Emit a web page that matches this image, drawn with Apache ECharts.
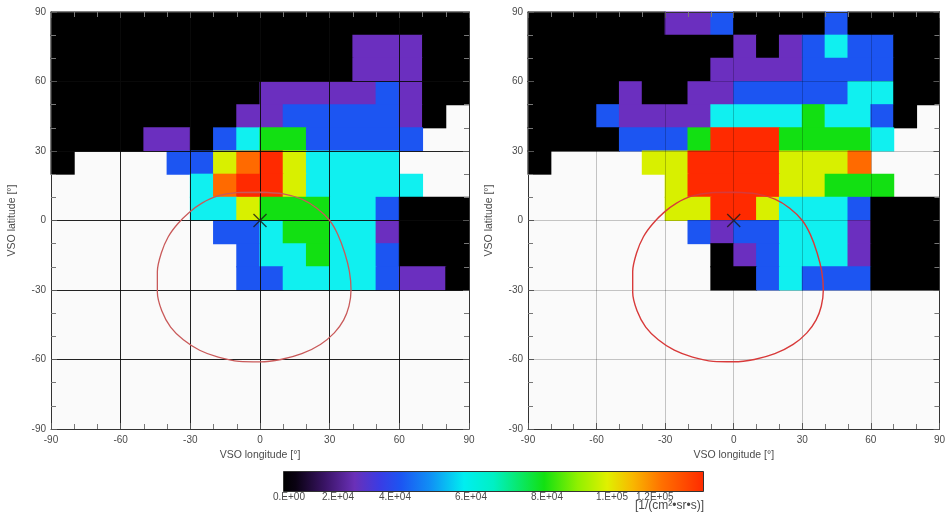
<!DOCTYPE html>
<html>
<head>
<meta charset="utf-8">
<script src="https://cdn.jsdelivr.net/npm/echarts/dist/echarts.min.js"></script>
<style>
html,body{margin:0;padding:0;background:#ffffff;}
#chart{width:948px;height:512px;}
</style>
</head>
<body>
<div id="chart"></div>
<script>
// ---------- DATA ----------
// Cell flux in units of 1E+04 [1/(cm2 sr s)], rows from lat 80..90 (top) down to -90..-80,
// columns from lon -90..-80 to 80..90. null = no data (white).
const n = null;
const fluxUnit = 1e4;
const lonEdges = [-90,-80,-70,-60,-50,-40,-30,-20,-10,0,10,20,30,40,50,60,70,80,90];
const latEdges = [90,80,70,60,50,40,30,20,10,0,-10,-20,-30,-40,-50,-60,-70,-80,-90];

const leftFlux = [
  [0,0,0,0,0,0,0,0,0,0,0,0,0,0,0,0,0,0],
  [0,0,0,0,0,0,0,0,0,0,0,0,0,2,2,2,0,0],
  [0,0,0,0,0,0,0,0,0,0,0,0,0,2,2,2,0,0],
  [0,0,0,0,0,0,0,0,0,2,2,2,2,2,4,2,0,0],
  [0,0,0,0,0,0,0,0,2,2,4,4,4,4,4,2,0,n],
  [0,0,0,0,2,2,0,4,6,8,8,4,4,4,4,4,n,n],
  [0,n,n,n,n,4,4,10,12,13,10,6,6,6,6,n,n,n],
  [n,n,n,n,n,n,6,12,13,13,10,6,6,6,6,6,n,n],
  [n,n,n,n,n,n,6,6,10,8,8,8,6,6,4,0,0,0],
  [n,n,n,n,n,n,n,4,4,6,8,8,6,6,2,0,0,0],
  [n,n,n,n,n,n,n,n,4,6,6,8,6,6,4,0,0,0],
  [n,n,n,n,n,n,n,n,4,4,6,6,6,6,4,2,2,0],
  [n,n,n,n,n,n,n,n,n,n,n,n,n,n,n,n,n,n],
  [n,n,n,n,n,n,n,n,n,n,n,n,n,n,n,n,n,n],
  [n,n,n,n,n,n,n,n,n,n,n,n,n,n,n,n,n,n],
  [n,n,n,n,n,n,n,n,n,n,n,n,n,n,n,n,n,n],
  [n,n,n,n,n,n,n,n,n,n,n,n,n,n,n,n,n,n],
  [n,n,n,n,n,n,n,n,n,n,n,n,n,n,n,n,n,n]
];

const rightFlux = [
  [0,0,0,0,0,0,2,2,4,0,0,0,0,4,0,0,0,0],
  [0,0,0,0,0,0,0,0,0,2,0,2,4,6,4,4,0,0],
  [0,0,0,0,0,0,0,0,2,2,2,2,4,4,4,4,0,0],
  [0,0,0,0,2,0,0,2,2,4,4,4,4,4,6,6,0,0],
  [0,0,0,4,2,2,2,2,6,6,6,6,8,6,6,4,0,n],
  [0,0,0,0,4,4,4,8,13,13,13,8,8,8,8,6,n,n],
  [0,n,n,n,n,10,10,13,13,13,13,10,10,10,12,n,n,n],
  [n,n,n,n,n,n,10,13,13,13,13,10,10,8,8,8,n,n],
  [n,n,n,n,n,n,10,10,13,13,10,6,6,6,4,0,0,0],
  [n,n,n,n,n,n,n,4,2,4,4,6,6,6,2,0,0,0],
  [n,n,n,n,n,n,n,n,0,2,4,6,6,6,2,0,0,0],
  [n,n,n,n,n,n,n,n,0,0,4,6,4,4,4,0,0,0],
  [n,n,n,n,n,n,n,n,n,n,n,n,n,n,n,n,n,n],
  [n,n,n,n,n,n,n,n,n,n,n,n,n,n,n,n,n,n],
  [n,n,n,n,n,n,n,n,n,n,n,n,n,n,n,n,n,n],
  [n,n,n,n,n,n,n,n,n,n,n,n,n,n,n,n,n,n],
  [n,n,n,n,n,n,n,n,n,n,n,n,n,n,n,n,n,n],
  [n,n,n,n,n,n,n,n,n,n,n,n,n,n,n,n,n,n]
];

// Outline (lon, lat) of the red contour
const contourLon = [0, 10, 18, 24.5, 30, 33.5, 36.5, 38.5, 39.2, 38.3, 36, 32, 26, 18, 9, 0, -9, -18, -26, -33, -38.5, -42.3, -44.2, -44.2, -42.5, -39.5, -35.5, -30.5, -25, -18.5, -10, 0];
const contourLat = [12.2, 11.5, 9.2, 5.3, 0, -6, -14, -22, -30, -37, -43, -48.5, -53.5, -57.5, -60, -61, -60.8, -59, -56, -51.5, -46, -39, -31, -22, -14, -7, -1.5, 3.5, 7.5, 10.5, 12, 12.2];

const centerPoint = [[0, 0]];

const cbarLabels = ['0.E+00', '2.E+04', '4.E+04', '6.E+04', '8.E+04', '1.E+05', '1.2E+05'];
const cbarUnit = '[1/(cm\u00B2\u2022sr\u2022s)]';

// ---------- BUILD ----------
// merge horizontally adjacent equal cells into runs: [lonFrom, lonTo, latTop, latBottom, flux]
function cells(grid) {
  const out = [];
  grid.forEach((row, i) => {
    let j = 0;
    while (j < row.length) {
      const v = row[j];
      let k = j + 1;
      while (k < row.length && row[k] === v) k++;
      if (v !== null) out.push([lonEdges[j], lonEdges[k], latEdges[i], latEdges[i + 1], v * fluxUnit]);
      j = k;
    }
  });
  return out;
}
const contour = contourLon.map((x, i) => [x, contourLat[i]]);

const levelColors = {
  black: '#000000', purple: '#6b2fbf', blue: '#1c55f2', cyan: '#10f0f0',
  green: '#12e012', yellow: '#d8f000', orange: '#ff6a00', red: '#ff2a00'
};

function renderCell(params, api) {
  const p0 = api.coord([api.value(0), api.value(2)]);
  const p1 = api.coord([api.value(1), api.value(3)]);
  const c = api.visual('color');
  const pad = 0.5;
  return {
    type: 'rect',
    shape: { x: p0[0] - pad, y: p0[1] - pad, width: p1[0] - p0[0] + 2 * pad, height: p1[1] - p0[1] + 2 * pad },
    style: { fill: c, stroke: null }
  };
}

const font = 'Liberation Sans';
const labelColor = '#4a4a4a';

function makeAxes(gi, gridColor, isX) {
  const main = {
    type: 'value', gridIndex: gi, min: -90, max: 90, interval: 30,
    position: isX ? 'bottom' : 'left',
    z: 5,
    axisLine: { show: true, onZero: false, lineStyle: { color: '#333', width: 1 } },
    axisTick: { show: true, inside: true, length: 6, lineStyle: { color: '#555' } },
    minorTick: { show: true, splitNumber: 3, length: 5, lineStyle: { color: '#777' } },
    minorSplitLine: { show: false },
    axisLabel: { fontSize: 10, color: labelColor, fontFamily: font, margin: isX ? 6 : 5 },
    splitLine: { show: true, lineStyle: { color: gridColor, width: 1 } },
    name: isX ? 'VSO longitude [\u00B0]' : 'VSO latitude [\u00B0]',
    nameLocation: 'middle',
    nameGap: isX ? 20 : 33,
    nameTextStyle: { fontSize: 10.5, color: labelColor, fontFamily: font }
  };
  const opp = {
    type: 'value', gridIndex: gi, min: -90, max: 90, interval: 30,
    position: isX ? 'top' : 'right',
    z: 5,
    axisLine: { show: true, onZero: false, lineStyle: { color: '#333', width: 1 } },
    axisTick: { show: true, inside: true, length: 6, lineStyle: { color: '#555' } },
    minorTick: { show: true, splitNumber: 3, length: 5, lineStyle: { color: '#777' } },
    minorSplitLine: { show: false },
    axisLabel: { show: false },
    splitLine: { show: false }
  };
  return [main, opp];
}

const leftGrid = 'rgba(10,10,10,0.9)';
const rightGrid = 'rgba(0,0,0,0.22)';

const xAxes = [...makeAxes(0, leftGrid, true), ...makeAxes(1, rightGrid, true)];
const yAxes = [...makeAxes(0, leftGrid, false), ...makeAxes(1, rightGrid, false)];

const cbarX = 283, cbarY = 471, cbarW = 420, cbarH = 20;
const cbarLabelLeft = [273, 322, 379, 455, 531, 596, 636];

const graphics = [
  {
    type: 'rect', left: cbarX, top: cbarY, z: 10,
    shape: { width: cbarW, height: cbarH },
    style: {
      fill: {
        type: 'linear', x: 0, y: 0, x2: 1, y2: 0,
        colorStops: [
          { offset: 0, color: '#000000' },
          { offset: 0.03, color: '#0a0212' },
          { offset: 0.1, color: '#3a1466' },
          { offset: 0.17, color: '#6a30b8' },
          { offset: 0.23, color: '#3a3ce4' },
          { offset: 0.28, color: '#1c55f2' },
          { offset: 0.35, color: '#1090f5' },
          { offset: 0.43, color: '#00eef0' },
          { offset: 0.5, color: '#00f0c4' },
          { offset: 0.62, color: '#12e012' },
          { offset: 0.7, color: '#90f000' },
          { offset: 0.77, color: '#e0f000' },
          { offset: 0.83, color: '#f8b800' },
          { offset: 0.9, color: '#ff7000' },
          { offset: 1, color: '#ff2a00' }
        ]
      },
      stroke: '#333', lineWidth: 1
    }
  }
];
cbarLabels.forEach((t, i) => {
  graphics.push({
    type: 'text', left: cbarLabelLeft[i], top: 492, z: 10,
    style: { text: t, fontSize: 10, fontFamily: font, fill: labelColor }
  });
});
graphics.push({
  type: 'text', right: 948 - 704, top: 500, z: 10,
  style: { text: cbarUnit, fontSize: 12, fontFamily: font, fill: labelColor }
});

const xSymbol = 'path://M0 0L10 10M10 0L0 10';

const option = {
  backgroundColor: '#ffffff',
  animation: false,
  grid: [
    { left: 51, top: 12, width: 418, height: 417, show: true, backgroundColor: '#fafafa', borderWidth: 0 },
    { left: 528, top: 12, width: 419, height: 417, show: true, backgroundColor: '#fafafa', borderWidth: 0 }
  ],
  xAxis: xAxes,
  yAxis: yAxes,
  visualMap: {
    type: 'piecewise', show: false, dimension: 4, seriesIndex: [0, 3],
    pieces: [
      { lt: 1e4, color: levelColors.black },
      { gte: 1e4, lt: 3e4, color: levelColors.purple },
      { gte: 3e4, lt: 5e4, color: levelColors.blue },
      { gte: 5e4, lt: 7e4, color: levelColors.cyan },
      { gte: 7e4, lt: 9e4, color: levelColors.green },
      { gte: 9e4, lt: 1.1e5, color: levelColors.yellow },
      { gte: 1.1e5, lt: 1.25e5, color: levelColors.orange },
      { gte: 1.25e5, color: levelColors.red }
    ]
  },
  graphic: graphics,
  series: [
    { type: 'custom', xAxisIndex: 0, yAxisIndex: 0, renderItem: renderCell, data: cells(leftFlux), z: 2, silent: true,
      encode: { x: [0, 1], y: [2, 3] } },
    { type: 'line', xAxisIndex: 0, yAxisIndex: 0, data: contour, smooth: 0.3, showSymbol: false, z: 8,
      lineStyle: { color: '#c95a5a', width: 1.3 } },
    { type: 'scatter', xAxisIndex: 0, yAxisIndex: 0, data: centerPoint, symbol: xSymbol, symbolSize: 13, z: 9,
      itemStyle: { color: 'none', borderColor: '#1a1a1a', borderWidth: 1.4 } },
    { type: 'custom', xAxisIndex: 2, yAxisIndex: 2, renderItem: renderCell, data: cells(rightFlux), z: 2, silent: true,
      encode: { x: [0, 1], y: [2, 3] } },
    { type: 'line', xAxisIndex: 2, yAxisIndex: 2, data: contour, smooth: 0.3, showSymbol: false, z: 8,
      lineStyle: { color: '#d83a3a', width: 1.4 } },
    { type: 'scatter', xAxisIndex: 2, yAxisIndex: 2, data: centerPoint, symbol: xSymbol, symbolSize: 13, z: 9,
      itemStyle: { color: 'none', borderColor: '#1a1a1a', borderWidth: 1.4 } }
  ]
};

const chart = echarts.init(document.getElementById('chart'), null, { renderer: 'canvas' });
chart.setOption(option);
</script>
</body>
</html>
